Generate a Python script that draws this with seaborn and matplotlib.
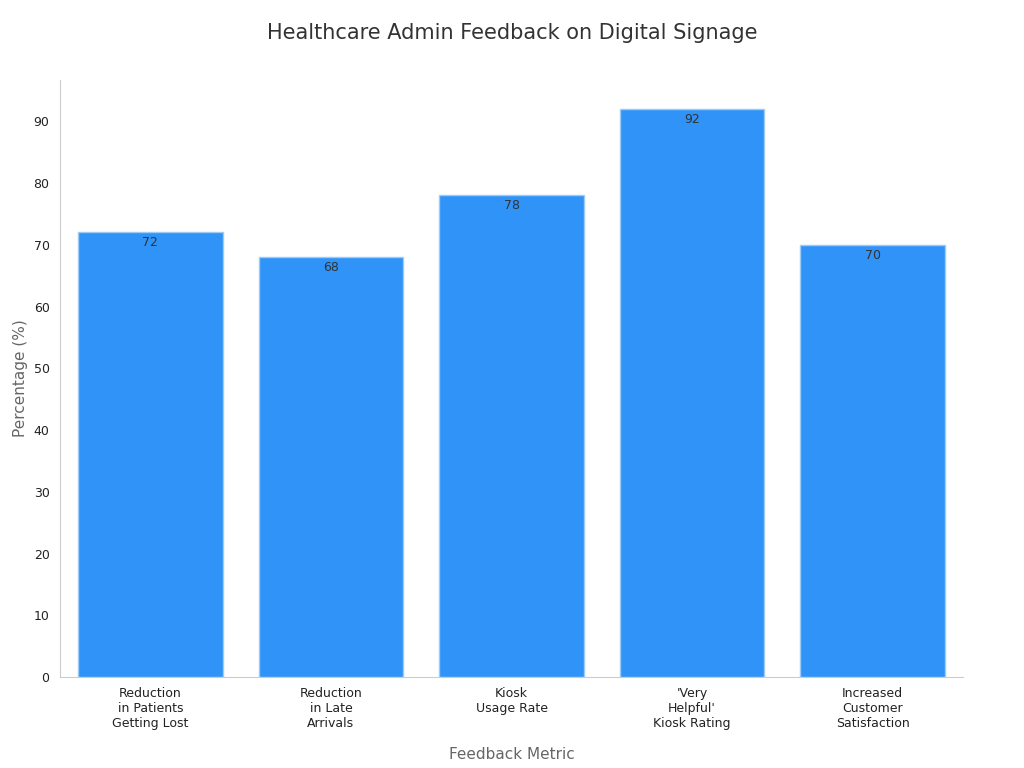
import matplotlib
matplotlib.use("Agg")
import matplotlib.pyplot as plt
import seaborn as sns
import pandas as pd

categories = ["Reduction\nin Patients\nGetting Lost", "Reduction\nin Late\nArrivals", "Kiosk\nUsage Rate",
              "'Very\nHelpful'\nKiosk Rating", "Increased\nCustomer\nSatisfaction"]
values = [72, 68, 78, 92, 70]

sns.set_style("white")
plt.rcParams['font.family'] = ['DejaVu Sans']
df = pd.DataFrame({"cat": categories, "val": values})
fig = plt.figure(figsize=(10.24, 7.68), dpi=100)
ax = fig.add_axes([60/1024, 1-677/768, 903/1024, 597/768])
sns.barplot(data=df, x="cat", y="val", color="#2F93F8", saturation=1, width=0.8,
            edgecolor="#9ecbf5", linewidth=1, ax=ax)
for i, v in enumerate(values):
    ax.text(i, v - 0.6, str(v), ha="center", va="top", fontsize=9, color="#333333")
ax.set_xlim(-0.5, 4.5)
ax.set_ylim(0, 96.7)
ax.set_yticks(range(0, 91, 10))
ax.tick_params(axis="both", labelsize=9, colors="#222222", length=4)
ax.tick_params(axis="both", color="#555555")
for s in ["top", "right"]:
    ax.spines[s].set_visible(False)
for s in ["left", "bottom"]:
    ax.spines[s].set_color("#cccccc")
ax.set_xlabel("Feedback Metric", fontsize=11, color="#666666", labelpad=12)
ax.set_ylabel("Percentage (%)", fontsize=11, color="#666666")
fig.suptitle("Healthcare Admin Feedback on Digital Signage", fontsize=15, color="#333333", y=0.97)
fig.savefig("out.png", dpi=100)
